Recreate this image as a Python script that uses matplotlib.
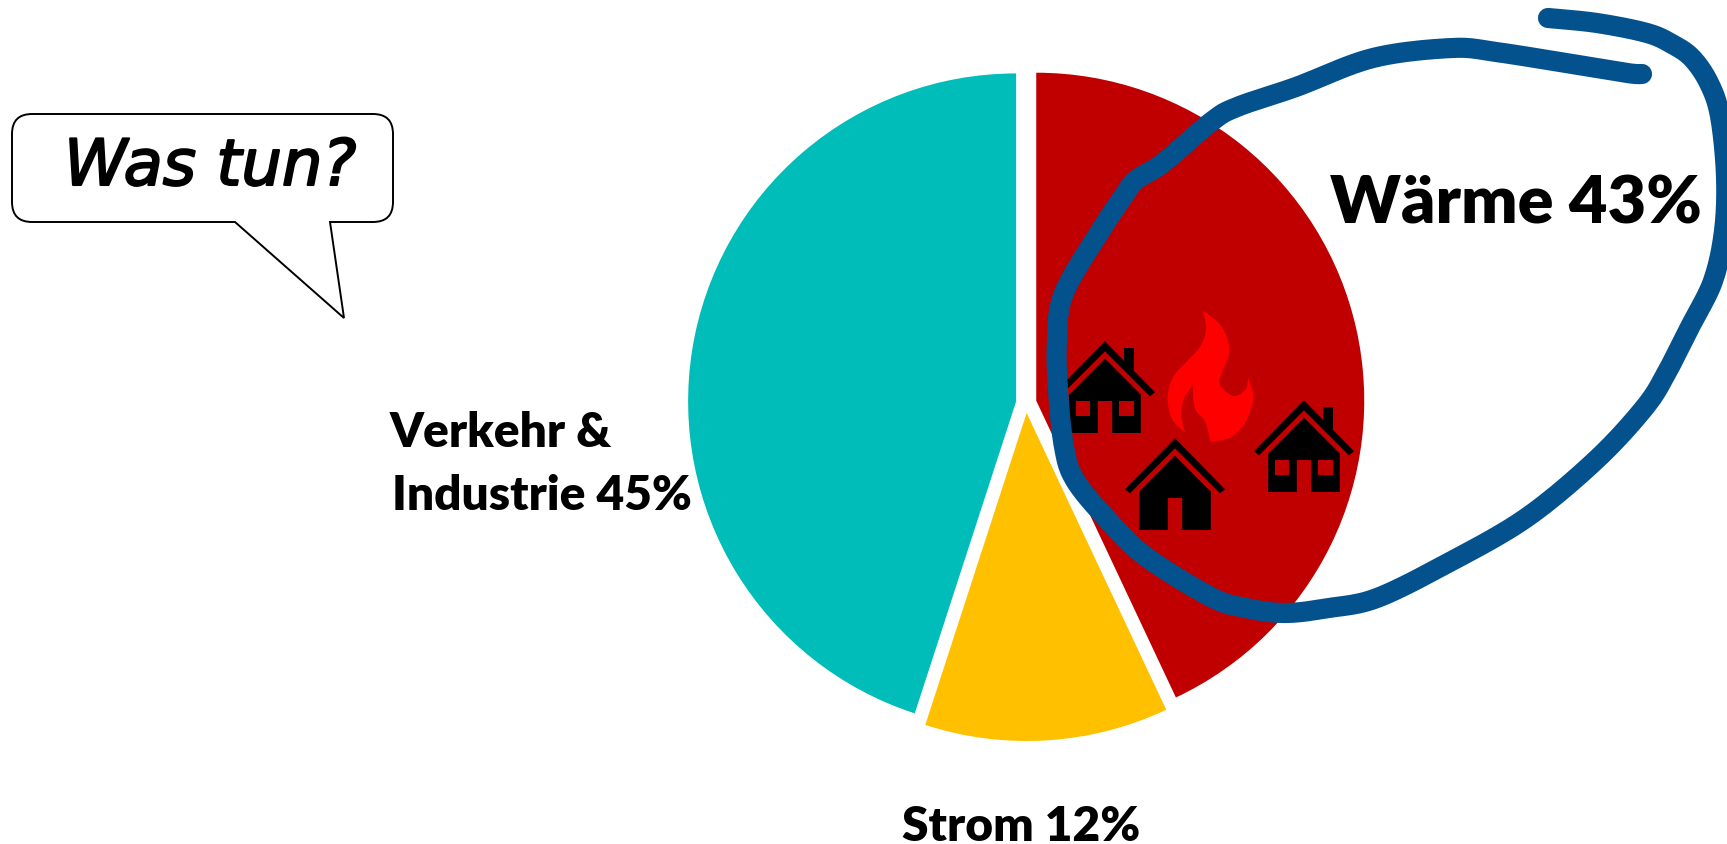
import numpy as np
import matplotlib
matplotlib.use('Agg')
import matplotlib.pyplot as plt
import matplotlib.patheffects as pe
from matplotlib.path import Path
from matplotlib.patches import PathPatch, Polygon, Rectangle

W, H = 1727, 844

# pie data, clockwise from the top
labels = ['Wärme', 'Strom', 'Verkehr & Industrie']
shares = [43, 12, 45]
colors = ['#C00000', '#FFC000', '#00BDB9']

BLUE = '#03528E'
RED = '#C00000'
FLAME = '#FF0000'

# freehand line around the Wärme slice, image pixels (y down)
stroke_pts = [(1548, 18), (1597, 23), (1647, 33), (1672, 44), (1692, 58), (1709, 83), (1720, 116), (1726, 176),
              (1724, 231), (1713, 281), (1691, 325), (1667, 372), (1645, 407), (1596, 460), (1526, 518),
              (1448, 563), (1377, 598), (1329, 608), (1285, 613), (1246, 608), (1211, 597), (1145, 556),
              (1106, 518), (1075, 480), (1064, 447), (1058, 390), (1057, 340), (1064, 293), (1101, 230),
              (1123, 197), (1136, 180), (1163, 163), (1211, 122), (1237, 107), (1296, 87), (1373, 58),
              (1452, 48), (1496, 52), (1566, 63), (1627, 73), (1642, 74)]

# flame outline pieces between the sharp tips, crop coordinates
flame_arcs = [
    [(490, 62), (545, 110), (568, 180), (545, 250), (540, 285), (580, 318), (615, 300), (625, 265)],
    [(625, 265), (640, 320), (620, 390), (575, 440), (512, 456)],
    [(512, 456), (495, 395), (465, 355), (458, 285)],
    [(458, 285), (430, 330), (425, 380), (435, 428)],
    [(435, 428), (395, 385), (383, 320), (400, 260), (440, 215), (480, 170), (498, 120), (490, 62)],
]

# (x of house middle, y of ground, has chimney and windows)
houses = [(1105, 433, True), (1175, 530, False), (1304, 492, True)]


def flip(pts):
    pts = np.asarray(pts, dtype=float)
    return np.column_stack([pts[:, 0], H - pts[:, 1]])


def smooth(pts, n=12):
    # catmull-rom through the given points
    p = np.asarray(pts, dtype=float)
    p = np.vstack([p[0], p, p[-1]])
    out = []
    for i in range(1, len(p) - 2):
        for t in np.linspace(0, 1, n, endpoint=False):
            out.append(0.5 * (2 * p[i] + (p[i + 1] - p[i - 1]) * t
                              + (2 * p[i - 1] - 5 * p[i] + 4 * p[i + 1] - p[i + 2]) * t ** 2
                              + (3 * p[i] - p[i - 1] - 3 * p[i + 1] + p[i + 2]) * t ** 3))
    out.append(p[-2])
    return np.array(out)


def draw_house(ax, cx, base, extras):
    y0 = H - base
    z = 3
    body = [(-35.8, 0), (-7.2, 0), (-7.2, 32), (7.2, 32), (7.2, 0), (35.8, 0), (35.8, 38.3), (0, 74.3), (-35.8, 38.3)]
    roof = [(0, 91.7), (50, 40.7), (45, 36.7), (0, 81.7), (-45, 36.7), (-50, 40.7)]
    ax.add_patch(Polygon([(cx + x, y0 + y) for x, y in body], fc='black', ec='none', zorder=z))
    ax.add_patch(Polygon([(cx + x, y0 + y) for x, y in roof], fc='black', ec='none', zorder=z))
    if extras:
        ax.add_patch(Rectangle((cx + 19.2, y0 + 63), 9.6, 21.7, fc='black', ec='none', zorder=z))
        ax.add_patch(Rectangle((cx - 29.2, y0 + 16.7), 14.7, 15.3, fc=RED, ec='none', zorder=z + 0.1))
        ax.add_patch(Rectangle((cx + 14.5, y0 + 16.7), 14.7, 15.3, fc=RED, ec='none', zorder=z + 0.1))


fig = plt.figure(figsize=(W / 100, H / 100), dpi=100)
ax = fig.add_axes([0, 0, 1, 1])

ax.pie(shares, colors=colors, radius=328, center=(1026, H - 403), startangle=90, counterclock=False,
       explode=[10.5, 10, 10], frame=True, wedgeprops={'linewidth': 0})
ax.set_xlim(0, W)
ax.set_ylim(0, H)
ax.set_aspect('equal')
ax.axis('off')

for cx, base, extras in houses:
    draw_house(ax, cx, base, extras)

# flame
flame = np.vstack([smooth(a) for a in flame_arcs])
flame = np.column_stack([1040 + flame[:, 0] / 3, 290 + flame[:, 1] / 3])
ax.add_patch(Polygon(flip(flame), fc=FLAME, ec='none', zorder=3))

# freehand line
line = flip(smooth(stroke_pts))
ax.plot(line[:, 0], line[:, 1], color=BLUE, lw=14.5, solid_capstyle='round', solid_joinstyle='round', zorder=4)

# speech bubble
l, r, t, b, c = 12, 393, 114, 222, 20
verts = [(l + c, t), (r - c, t), (r, t), (r, t + c), (r, b - c), (r, b), (r - c, b), (330, b), (344, 318), (235, b),
         (l + c, b), (l, b), (l, b - c), (l, t + c), (l, t), (l + c, t), (l + c, t)]
codes = [Path.MOVETO, Path.LINETO, Path.CURVE3, Path.CURVE3, Path.LINETO, Path.CURVE3, Path.CURVE3, Path.LINETO,
         Path.LINETO, Path.LINETO, Path.LINETO, Path.CURVE3, Path.CURVE3, Path.LINETO, Path.CURVE3, Path.CURVE3,
         Path.CLOSEPOLY]
ax.add_patch(PathPatch(Path(flip(verts), codes), fc='white', ec='black', lw=1.4, zorder=5))
ax.text(64, H - 185, 'Was tun?', fontsize=46, family='DejaVu Sans', style='oblique', color='black',
        va='baseline', ha='left', zorder=6, path_effects=[pe.withStroke(linewidth=1.5, foreground='black')])

# labels
ax.text(1330, H - 223, 'Wärme 43%', fontsize=48, family='Lato', fontweight='heavy', va='baseline', zorder=6)
ax.text(390, H - 447, 'Verkehr &', fontsize=34.5, family='Lato', fontweight='heavy', va='baseline', zorder=6)
ax.text(392, H - 510, 'Industrie 45%', fontsize=34.5, family='Lato', fontweight='heavy', va='baseline', zorder=6)
ax.text(902, H - 841, 'Strom 12%', fontsize=34.5, family='Lato', fontweight='heavy', va='baseline', zorder=6)

fig.savefig('out.png', dpi=100, facecolor='white')
plt.close(fig)
